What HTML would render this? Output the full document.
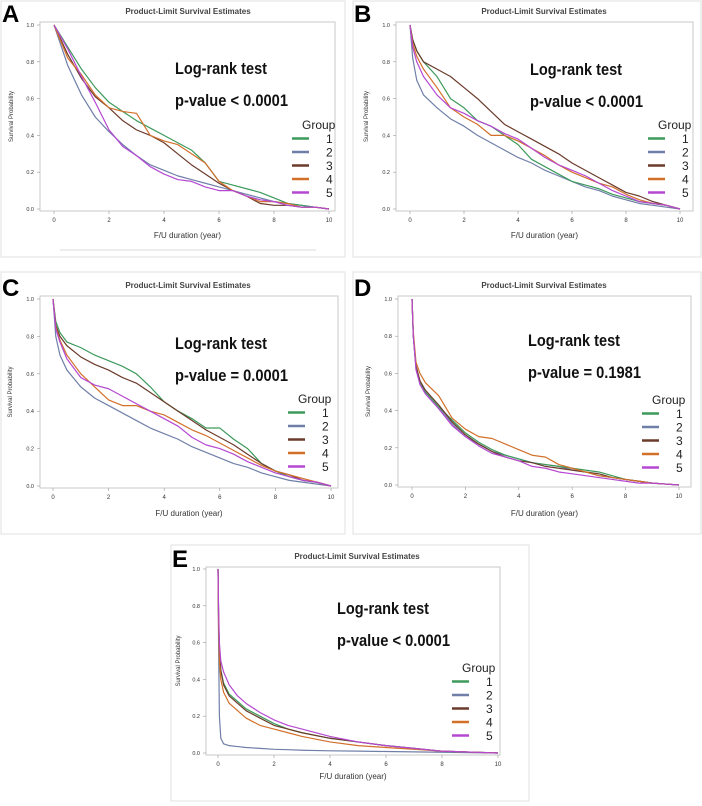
<!DOCTYPE html>
<html><head><meta charset="utf-8"><style>
html,body{margin:0;padding:0;background:#fff;width:702px;height:806px;overflow:hidden}
svg{display:block;font-family:"Liberation Sans",sans-serif}
</style></head><body>
<svg id="fig" width="702" height="806" viewBox="0 0 702 806" xmlns="http://www.w3.org/2000/svg"></svg>
<script>
const groupLabels=["1","2","3","4","5"];
const groupColors=["#3d9a5c","#6f7fa8","#6b3b2b","#d2702a","#b548d2"];
const xTicks=[0,2,4,6,8,10];
const yTicks=[0,0.2,0.4,0.6,0.8,1.0];
const timesA=[0,0.5,1,1.5,2,2.5,3,3.5,4,4.5,5,5.5,6,6.5,7,7.5,8,8.5,9,9.5,10];
const survA1=[1,.88,.76,.66,.58,.53,.48,.44,.40,.36,.32,.25,.15,.13,.11,.09,.06,.03,.02,.01,0];
const survA2=[1,.78,.62,.50,.42,.35,.29,.24,.21,.18,.16,.14,.12,.10,.08,.06,.04,.03,.02,.01,0];
const survA3=[1,.84,.71,.61,.55,.48,.43,.40,.36,.30,.24,.19,.14,.10,.07,.03,.02,.02,.01,.01,0];
const survA4=[1,.82,.73,.62,.55,.53,.52,.40,.37,.35,.30,.25,.15,.10,.07,.04,.04,.03,.01,.01,0];
const survA5=[1,.87,.72,.58,.43,.34,.29,.23,.19,.16,.15,.12,.10,.10,.07,.05,.04,.02,.01,.01,0];
const timesB=[0,0.1,0.25,0.5,1,1.5,2,2.5,3,3.5,4,4.5,5,5.5,6,6.5,7,7.5,8,8.5,9,9.5,10];
const survB1=[1,.92,.86,.80,.72,.60,.55,.48,.45,.40,.35,.27,.23,.19,.15,.13,.11,.08,.06,.04,.03,.02,0];
const survB2=[1,.82,.70,.62,.55,.49,.45,.40,.36,.32,.28,.25,.21,.18,.15,.12,.10,.07,.05,.03,.02,.01,0];
const survB3=[1,.92,.86,.80,.76,.72,.66,.60,.53,.46,.42,.38,.34,.30,.25,.21,.17,.13,.09,.07,.04,.02,0];
const survB4=[1,.90,.83,.76,.66,.55,.50,.46,.40,.40,.37,.33,.29,.24,.20,.17,.14,.12,.08,.05,.03,.02,0];
const survB5=[1,.88,.80,.72,.62,.55,.52,.48,.45,.41,.38,.33,.28,.24,.21,.18,.14,.10,.07,.04,.03,.02,0];
const timesC=[0,0.1,0.25,0.5,1,1.5,2,2.5,3,3.5,4,4.5,5,5.5,6,6.5,7,7.5,8,8.5,9,9.5,10];
const survC1=[1,.88,.82,.77,.74,.70,.67,.64,.60,.53,.45,.40,.36,.31,.31,.25,.20,.12,.08,.05,.03,.02,0];
const survC2=[1,.80,.70,.62,.53,.47,.43,.39,.35,.31,.28,.25,.21,.18,.15,.12,.10,.07,.05,.03,.02,.01,0];
const survC3=[1,.86,.80,.75,.69,.65,.62,.58,.55,.50,.45,.40,.35,.30,.26,.22,.17,.12,.08,.06,.03,.02,0];
const survC4=[1,.85,.78,.70,.60,.53,.46,.43,.43,.40,.38,.34,.30,.27,.23,.19,.15,.11,.08,.06,.04,.02,0];
const survC5=[1,.84,.77,.68,.58,.54,.52,.48,.44,.40,.36,.32,.26,.22,.20,.17,.13,.10,.07,.05,.03,.02,0];
const timesD=[0,0.05,0.15,0.3,0.5,1,1.5,2,2.5,3,3.5,4,4.5,5,5.5,6,6.5,7,7.5,8,8.5,9,9.5,10];
const survD1=[1,.80,.63,.55,.50,.42,.35,.28,.23,.19,.16,.14,.12,.11,.10,.09,.08,.07,.05,.03,.02,.01,.005,0];
const survD2=[1,.80,.63,.55,.50,.42,.33,.26,.22,.18,.16,.14,.12,.11,.10,.08,.07,.05,.04,.03,.02,.01,.005,0];
const survD3=[1,.80,.64,.56,.51,.43,.34,.27,.22,.18,.15,.13,.12,.10,.09,.08,.07,.06,.04,.03,.02,.01,.005,0];
const survD4=[1,.82,.66,.60,.55,.48,.36,.30,.26,.25,.22,.19,.16,.15,.11,.09,.07,.05,.04,.03,.02,.01,.005,0];
const survD5=[1,.80,.62,.54,.49,.41,.32,.26,.21,.17,.15,.13,.10,.09,.07,.06,.05,.04,.03,.02,.01,.01,.005,0];
const timesE=[0,0.02,0.05,0.1,0.2,0.4,0.7,1,1.5,2,2.5,3,4,5,6,7,8,9,10];
const survE1=[1,.75,.55,.45,.38,.32,.28,.24,.20,.16,.13,.11,.08,.06,.04,.025,.01,.005,0];
const survE2=[1,.60,.20,.08,.05,.04,.035,.03,.025,.02,.018,.015,.012,.01,.008,.006,.004,.002,0];
const survE3=[1,.75,.55,.45,.37,.31,.27,.23,.19,.15,.13,.11,.08,.06,.04,.025,.01,.005,0];
const survE4=[1,.70,.50,.40,.33,.27,.23,.19,.15,.13,.11,.09,.06,.04,.03,.02,.01,.005,0];
const survE5=[1,.80,.60,.50,.44,.37,.31,.27,.22,.18,.15,.13,.09,.06,.04,.025,.01,.005,0];

const panels=[
 {id:"a",letter:"A",box:[1,1,344,256],x0:54,x10:329,y1:25,y0:209,fr:[40,22,335,211],title:188,lr:[175,74],pv:"p-value < 0.0001",leg:[292,125],xl:238,yl:13,times:timesA,series:[survA1,survA2,survA3,survA4,survA5]},
 {id:"b",letter:"B",box:[353,1,348,256],x0:410,x10:680,y1:25,y0:209,fr:[396,22,693,211],title:544,lr:[530,75],pv:"p-value < 0.0001",leg:[648,125],xl:238,yl:368,times:timesB,series:[survB1,survB2,survB3,survB4,survB5]},
 {id:"c",letter:"C",box:[1,272,344,262],x0:53,x10:331,y1:299,y0:486,fr:[40,296,338,488],title:188,lr:[175,349],pv:"p-value = 0.0001",leg:[288,399],xl:516,yl:12,times:timesC,series:[survC1,survC2,survC3,survC4,survC5]},
 {id:"d",letter:"D",box:[353,272,348,262],x0:412,x10:679,y1:299,y0:485,fr:[398,296,691,487],title:544,lr:[528,346],pv:"p-value = 0.1981",leg:[642,400],xl:516,yl:370,times:timesD,series:[survD1,survD2,survD3,survD4,survD5]},
 {id:"e",letter:"E",box:[171,545,358,256],x0:218,x10:498,y1:569,y0:753,fr:[206,567,500,755],title:357,lr:[337,614],pv:"p-value < 0.0001",leg:[452,668],xl:779,yl:180,times:timesE,series:[survE1,survE2,survE3,survE4,survE5]}
];
const NS="http://www.w3.org/2000/svg";
const svg=document.getElementById("fig");
function mk(tag,attrs,parent,text){const e=document.createElementNS(NS,tag);for(const k in attrs)e.setAttribute(k,attrs[k]);if(text!==undefined)e.textContent=text;parent.appendChild(e);return e;}
panels.forEach(p=>{
  const g=mk("g",{},svg);
  
  
  const sx=t=>p.x0+(p.x10-p.x0)*t/10;
  const sy=v=>p.y0-(p.y0-p.y1)*v;
  const bx=mk("rect",{x:p.box[0],y:p.box[1],width:p.box[2],height:p.box[3],fill:"none",stroke:"#e2e2e2","stroke-width":1},g);
  
  
  const fr=mk("rect",{x:p.fr[0],y:p.fr[1],width:p.fr[2]-p.fr[0],height:p.fr[3]-p.fr[1],fill:"none",stroke:"#c8c8c8","stroke-width":1},g);
  
  
  const lt=mk("text",{x:p.box[0]+1,y:p.fr[1]+0,"font-size":24,"font-weight":"bold",fill:"#000"},g,p.letter);
  
  
  const tt=mk("text",{x:p.title,y:p.fr[1]-8,"font-size":8,"font-weight":"bold",fill:"#444","text-anchor":"middle"},g,"Product-Limit Survival Estimates");
  
  
  yTicks.forEach(v=>{
    const t=mk("text",{x:p.fr[0]-6,y:sy(v)+2,"font-size":5.5,fill:"#333","text-anchor":"end"},g,v.toFixed(1));
    
    
    mk("line",{x1:p.fr[0]-3,x2:p.fr[0],y1:sy(v),y2:sy(v),stroke:"#999","stroke-width":0.6},g);
  });
  xTicks.forEach(v=>{
    const t=mk("text",{x:sx(v),y:p.fr[3]+11,"font-size":6,fill:"#333","text-anchor":"middle"},g,String(v));
    
    
    mk("line",{x1:sx(v),x2:sx(v),y1:p.fr[3],y2:p.fr[3]+3,stroke:"#999","stroke-width":0.6},g);
  });
  const xt=mk("text",{x:(p.fr[0]+p.fr[2])/2,y:p.xl,"font-size":8,fill:"#333","text-anchor":"middle"},g,"F/U duration (year)");
  
  
  const yc=(p.fr[1]+p.fr[3])/2;
  const yt=mk("text",{x:p.yl,y:yc,"font-size":6,fill:"#333","text-anchor":"middle",transform:"rotate(-90 "+p.yl+" "+yc+")"},g,"Survival Probability");
  
  
  [1,0,2,3,4].forEach(i=>{
    const arr=p.series[i];
    let d="";
    p.times.forEach((t,k)=>{ if(k===0) d+="M"+sx(t)+","+sy(arr[k]); else d+=" L"+sx(t)+","+sy(arr[k]); });
    const ln=mk("path",{d:d,fill:"none",stroke:groupColors[i],"stroke-width":1.2,"stroke-linejoin":"round"},g);
    
    
  });
  const a1=mk("text",{x:p.lr[0],y:p.lr[1],"font-size":16.5,"font-weight":"bold",fill:"#111",textLength:92,lengthAdjust:"spacingAndGlyphs"},g,"Log-rank test");
  
  
  const a2=mk("text",{x:p.lr[0],y:p.lr[1]+32,"font-size":16.5,"font-weight":"bold",fill:"#111",textLength:113,lengthAdjust:"spacingAndGlyphs"},g,p.pv);
  
  
  const lg=mk("g",{},g);
  
  
  const gt=mk("text",{x:p.leg[0]+10,y:p.leg[1]+4,"font-size":12,fill:"#222"},lg,"Group");
  
  
  groupLabels.forEach((lab,i)=>{
    const yy=p.leg[1]+13.5*(i+1);
    const l=mk("line",{x1:p.leg[0],x2:p.leg[0]+17,y1:yy,y2:yy,stroke:groupColors[i],"stroke-width":2.5},lg);
    
    
    const t=mk("text",{x:p.leg[0]+34,y:yy+4.5,"font-size":12,fill:"#222"},lg,lab);
    
    
  });
});
const ul=mk("line",{x1:60,x2:316,y1:250,y2:250,stroke:"#d8d8d8","stroke-width":1},svg);


</script>
</body></html>
